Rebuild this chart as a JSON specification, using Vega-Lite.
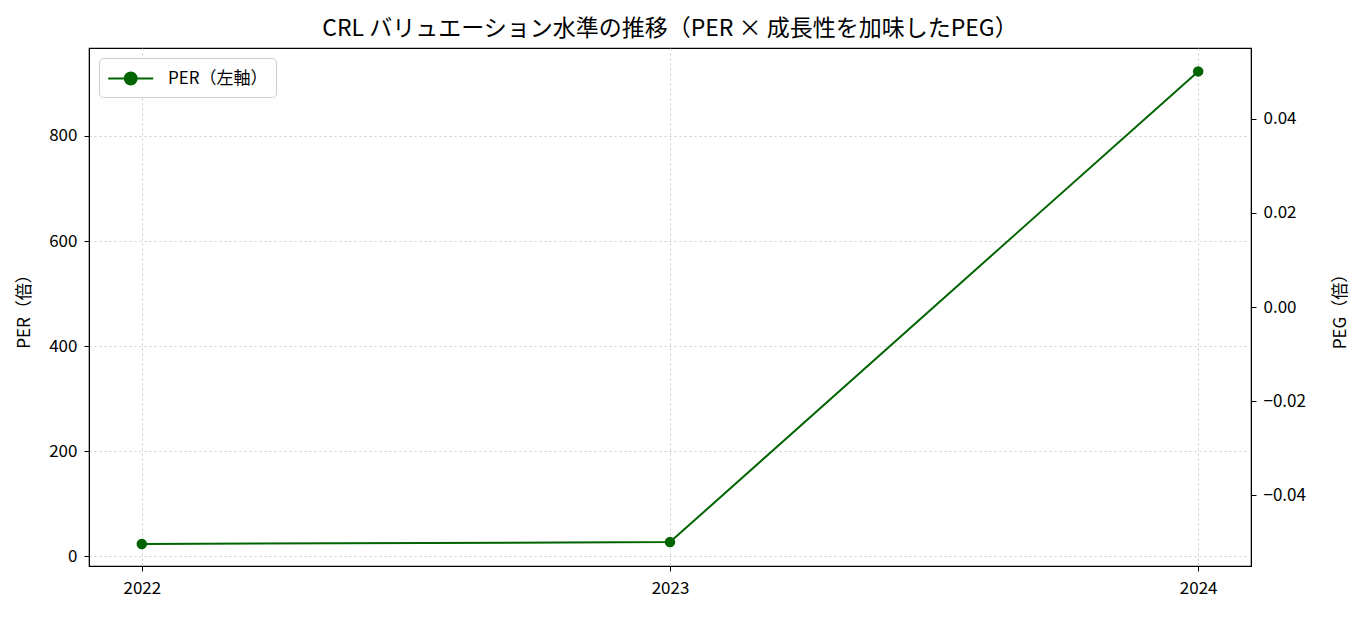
{
  "$schema": "https://vega.github.io/schema/vega-lite/v6.json",
  "autosize": {"type": "none"},
  "width": 1162,
  "height": 518,
  "padding": {"left": 89, "top": 48, "right": 111, "bottom": 51},
  "title": {"text": "CRL バリュエーション水準の推移（PER × 成長性を加味したPEG）", "fontSize": 23, "fontWeight": "normal", "font": "Noto Sans CJK JP", "offset": 7},
  "config": {
    "font": "Noto Sans CJK JP",
    "view": {"stroke": "black", "strokeWidth": 1.2},
    "axis": {"labelFontSize": 17, "titleFontSize": 17, "titleFontWeight": "normal", "labelColor": "black", "titleColor": "black", "domainColor": "black", "tickColor": "black", "tickSize": 5, "labelPadding": 7}
  },
  "datasets": {
    "per": [
      {"year": 2022, "series": "PER（左軸）", "per": 23},
      {"year": 2023, "series": "PER（左軸）", "per": 26.5},
      {"year": 2024, "series": "PER（左軸）", "per": 923}
    ],
    "peg": [
      {"year": 2023, "peg": 0}
    ]
  },
  "layer": [
    {
      "data": {"name": "per"},
      "mark": {"type": "line", "color": "#006400", "strokeWidth": 2, "point": {"filled": true, "size": 110, "color": "#006400", "opacity": 1}},
      "encoding": {
        "x": {"field": "year", "type": "quantitative", "scale": {"domain": [2021.9, 2024.1], "nice": false, "zero": false},
          "axis": {"title": null, "values": [2022, 2023, 2024], "format": "d", "grid": true, "gridDash": [2, 3], "gridColor": "#cccccc", "labelPadding": 9}},
        "y": {"field": "per", "type": "quantitative", "scale": {"domain": [-19, 967.6], "nice": false, "zero": false},
          "axis": {"title": "PER（倍）", "values": [0, 200, 400, 600, 800], "grid": true, "gridDash": [2, 3], "gridColor": "#cccccc", "titlePadding": 15}},
        "color": {"field": "series", "type": "nominal", "scale": {"range": ["#006400"]},
          "legend": {"title": null, "orient": "top-left", "offset": 10, "labelFontSize": 17, "labelOffset": 36, "symbolType": "M-1,0L3,0M1.53,0A0.53,0.53 0 1,1 0.47,0A0.53,0.53 0 1,1 1.53,0", "symbolSize": 506, "symbolStrokeWidth": 2, "symbolFillColor": "#006400", "symbolStrokeColor": "#006400", "fillColor": "white", "strokeColor": "#cccccc", "cornerRadius": 4, "padding": 8}}
      }
    },
    {
      "data": {"name": "peg"},
      "mark": {"type": "point", "opacity": 0},
      "encoding": {
        "x": {"field": "year", "type": "quantitative", "scale": {"domain": [2021.9, 2024.1], "nice": false, "zero": false}},
        "y": {"field": "peg", "type": "quantitative", "scale": {"domain": [-0.055, 0.055], "nice": false},
          "axis": {"orient": "right", "title": "PEG（倍）", "titleAngle": 270, "values": [-0.04, -0.02, 0, 0.02, 0.04], "format": ".2f", "grid": false, "titlePadding": 44}}
      }
    }
  ],
  "resolve": {"scale": {"y": "independent"}}
}
